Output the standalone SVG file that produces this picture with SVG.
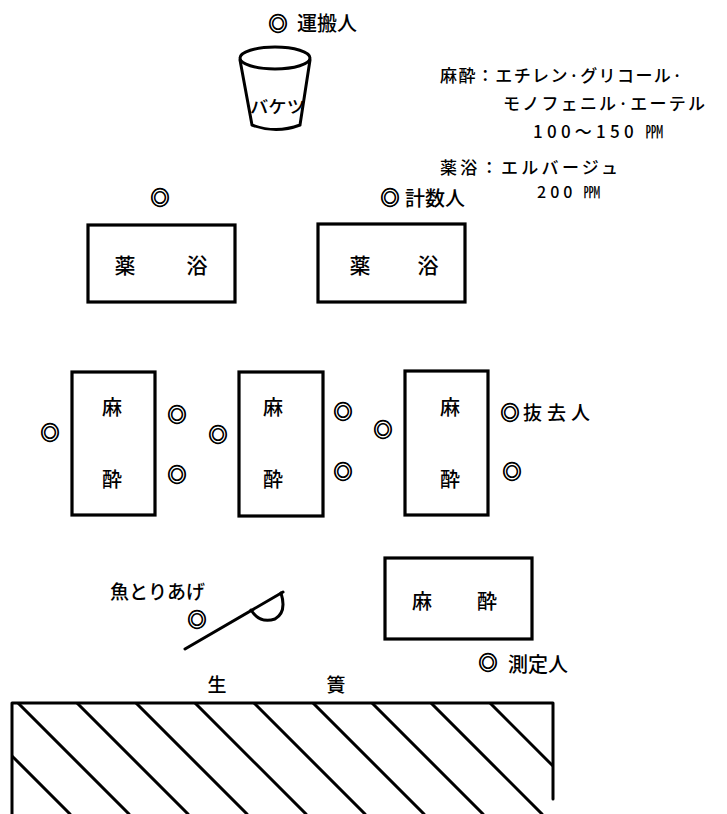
<svg xmlns="http://www.w3.org/2000/svg" width="727" height="814" viewBox="0 0 727 814">
<defs>
<style>
.t{font-family:"Noto Sans CJK JP","Noto Sans CJK SC",sans-serif;fill:#000;font-weight:500}
.box{fill:none;stroke:#000;stroke-width:3.2}
.ln{fill:none;stroke:#000;stroke-width:3;stroke-linecap:round}
.mk{font-family:"Noto Sans CJK JP","Noto Sans CJK SC",sans-serif;font-size:19px;text-anchor:middle;fill:#000;stroke:#000;stroke-width:0.9}
</style>
<clipPath id="hc"><rect x="12" y="703" width="541" height="111"/></clipPath>
</defs>
<rect width="727" height="814" fill="#fff"/>

<g id="carrier">
<text class="mk" x="278" y="31">◎</text>
<text class="t" x="297" y="31" font-size="20">運搬人</text>
</g>

<g id="bucket">
<ellipse cx="275" cy="58" rx="35" ry="11" class="ln"/>
<path d="M240,60 L252,125 Q276,134 300,125 L310,60" class="ln"/>
<text class="t" x="250" y="113" font-size="17" textLength="55" lengthAdjust="spacingAndGlyphs">バケツ</text>
</g>

<g id="legend">
<text class="t" x="440" y="82" font-size="17" textLength="242" lengthAdjust="spacing">麻酔：エチレン·グリコール·</text>
<text class="t" x="503" y="110" font-size="17" textLength="202" lengthAdjust="spacing">モノフェニル·エーテル</text>
<text class="t" x="533" y="138" font-size="17" textLength="130" lengthAdjust="spacing">100～150 ㏙</text>
<text class="t" x="440" y="174" font-size="17" textLength="178" lengthAdjust="spacing">薬浴：エルバージュ</text>
<text class="t" x="537" y="198" font-size="16" textLength="63" lengthAdjust="spacing">200 ㏙</text>
</g>

<g id="marker-left-top"><text class="mk" x="160" y="205">◎</text></g>
<g id="counter">
<text class="mk" x="390" y="205">◎</text>
<text class="t" x="405" y="206" font-size="20">計数人</text>
</g>

<g id="bath1">
<rect x="88" y="225" width="147" height="77" class="box"/>
<text class="t" x="125" y="273" font-size="21" text-anchor="middle">薬</text>
<text class="t" x="197" y="273" font-size="21" text-anchor="middle">浴</text>
</g>
<g id="bath2">
<rect x="318" y="224" width="147" height="78" class="box"/>
<text class="t" x="360" y="273" font-size="21" text-anchor="middle">薬</text>
<text class="t" x="428" y="273" font-size="21" text-anchor="middle">浴</text>
</g>

<g id="anes1">
<rect x="72" y="372" width="83" height="143" class="box"/>
<text class="t" x="112" y="415" font-size="20" text-anchor="middle">麻</text>
<text class="t" x="112" y="487" font-size="20" text-anchor="middle">酔</text>
</g>
<g id="anes2">
<rect x="239" y="372" width="84" height="144" class="box"/>
<text class="t" x="273" y="415" font-size="20" text-anchor="middle">麻</text>
<text class="t" x="273" y="487" font-size="20" text-anchor="middle">酔</text>
</g>
<g id="anes3">
<rect x="405" y="371" width="83" height="144" class="box"/>
<text class="t" x="450" y="415" font-size="20" text-anchor="middle">麻</text>
<text class="t" x="450" y="487" font-size="20" text-anchor="middle">酔</text>
</g>

<g id="workers">
<text class="mk" x="50" y="440">◎</text>
<text class="mk" x="177" y="422">◎</text>
<text class="mk" x="177" y="482">◎</text>
<text class="mk" x="218" y="442">◎</text>
<text class="mk" x="343" y="419">◎</text>
<text class="mk" x="343" y="479">◎</text>
<text class="mk" x="383" y="437">◎</text>
<text class="mk" x="512" y="479">◎</text>
</g>
<g id="remover">
<text class="mk" x="510" y="420">◎</text>
<text class="t" x="523" y="420" font-size="19" textLength="67" lengthAdjust="spacing">抜去人</text>
</g>

<g id="landing">
<text class="t" x="110" y="599" font-size="19" textLength="95" lengthAdjust="spacing">魚とりあげ</text>
<text class="mk" x="197" y="627">◎</text>
<path d="M185,649 L283,592" class="ln"/>
<path d="M251,610 Q260,624 275,619 Q287,612 281,593" class="ln"/>
</g>

<g id="anes4">
<rect x="385" y="558" width="147" height="81" class="box"/>
<text class="t" x="422" y="609" font-size="20" text-anchor="middle">麻</text>
<text class="t" x="487" y="609" font-size="20" text-anchor="middle">酔</text>
</g>
<g id="measurer">
<text class="mk" x="488" y="670">◎</text>
<text class="t" x="508" y="672" font-size="20">測定人</text>
</g>

<g id="pen">
<text class="t" x="217" y="692" font-size="19" text-anchor="middle" font-weight="700">生</text>
<text class="t" x="336" y="692" font-size="19" text-anchor="middle" font-weight="700">簀</text>
<path d="M12,703 L553,703 M12,703 L12,814 M553,703 L553,799" class="ln" stroke-linecap="square"/>
<g clip-path="url(#hc)" class="ln">
<path d="M-41,703 L70,814 M18,703 L129,814 M77,703 L188,814 M136,703 L247,814 M195,703 L306,814 M254,703 L365,814 M313,703 L424,814 M372,703 L483,814 M431,703 L542,814 M490,703 L601,814"/>
</g>
</g>
</svg>
